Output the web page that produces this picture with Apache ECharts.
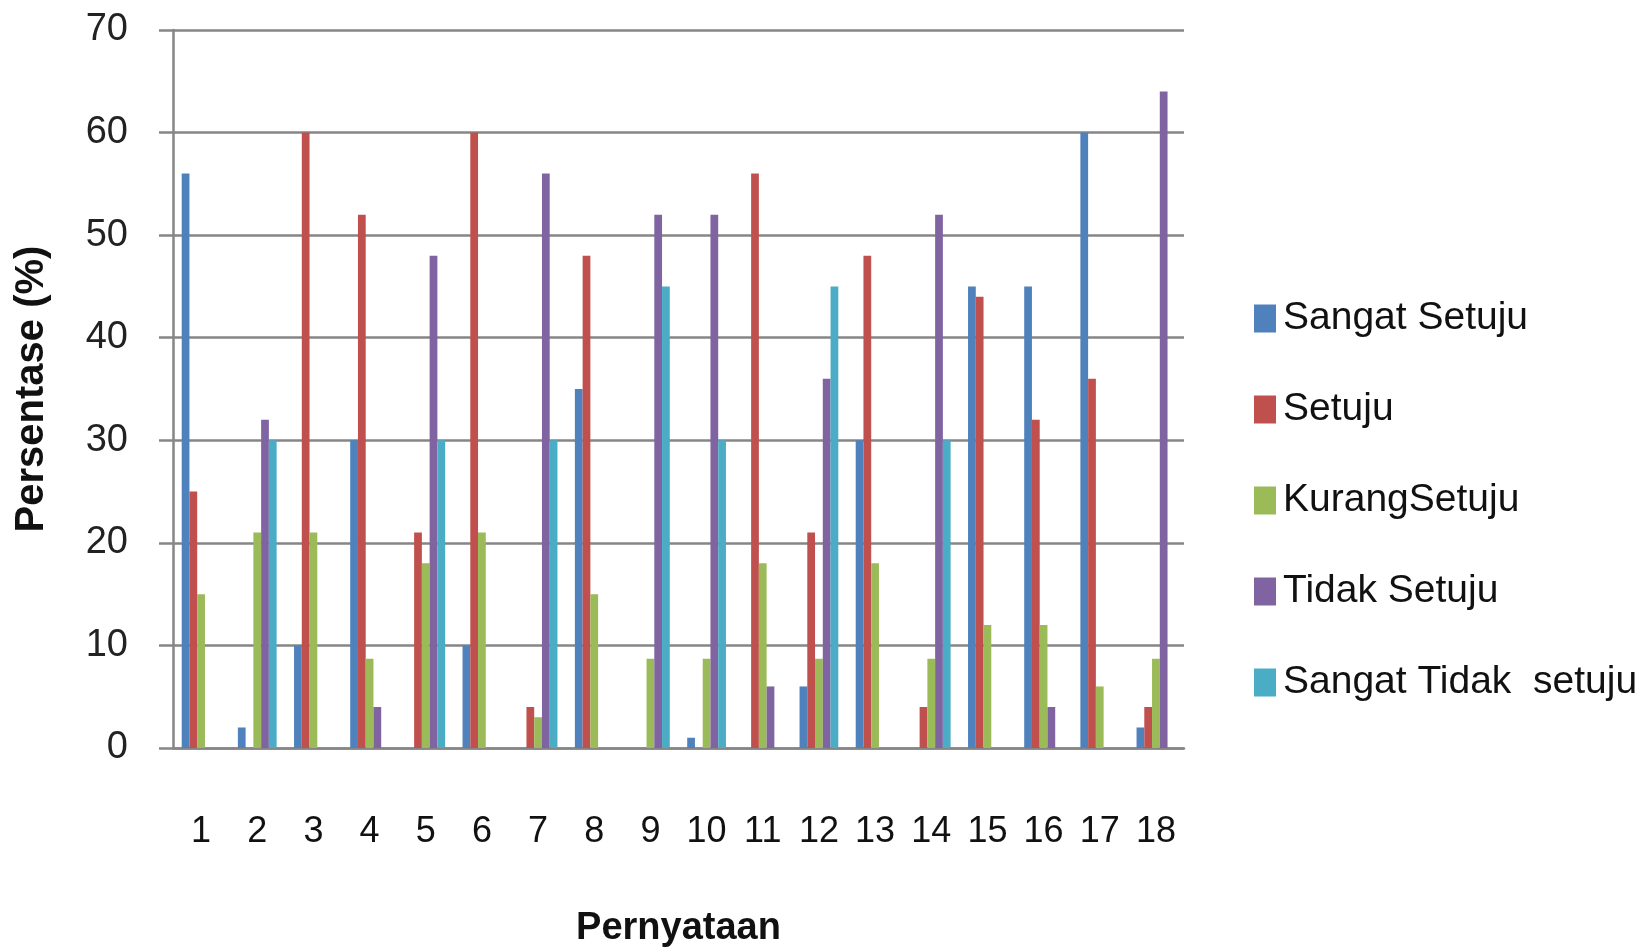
<!DOCTYPE html>
<html>
<head>
<meta charset="utf-8">
<script src="https://cdn.jsdelivr.net/npm/echarts@6/dist/echarts.min.js"></script>
<style>html,body{margin:0;padding:0;background:#fff}#c{width:1650px;height:950px}</style>
</head>
<body>
<div id="c"></div>
<script>
const categories = ['1','2','3','4','5','6','7','8','9','10','11','12','13','14','15','16','17','18'];
const seriesNames = ['Sangat Setuju','Setuju','Kurang Setuju','Tidak Setuju','Sangat Tidak setuju'];
const legendLabels = ['Sangat Setuju','Setuju','KurangSetuju','Tidak Setuju','Sangat Tidak  setuju'];
const sangatSetuju = [56,2,10,30,0,10,0,35,0,1,0,6,30,0,45,45,60,2];
const setuju = [25,0,60,52,21,60,4,48,0,0,56,21,48,4,44,32,36,4];
const kurangSetuju = [15,21,21,8.7,18,21,3,15,8.7,8.7,18,8.7,18,8.7,12,12,6,8.7];
const tidakSetuju = [0,32,0,4,48,0,56,0,52,52,6,36,0,52,0,4,0,64];
const sangatTidakSetuju = [0,30,0,0,30,0,30,0,45,30,0,45,0,30,0,0,0,0];
const yTicks = [0,10,20,30,40,50,60,70];
const colors = ['#4F81BD','#C0504D','#9BBB59','#8064A2','#4BACC6'];

const allData = [sangatSetuju, setuju, kurangSetuju, tidakSetuju, sangatTidakSetuju];
const labelMap = {};
seriesNames.forEach((n,i)=>labelMap[n]=legendLabels[i]);

const chart = echarts.init(document.getElementById('c'), null, {renderer:'canvas'});
const font = "'Liberation Sans', sans-serif";
chart.setOption({
  animation: false,
  backgroundColor: '#fff',
  color: colors,
  grid: {left: 173, right: 466, top: 30, bottom: 202, containLabel: false, outerBoundsMode: 'none'},
  legend: {
    orient: 'vertical', left: 1249, top: 294,
    itemWidth: 22, itemHeight: 28, itemGap: 52,
    icon: 'rect',
    data: seriesNames,
    formatter: n => labelMap[n],
    textStyle: {fontFamily: font, fontSize: 39, lineHeight: 38, color: '#111', padding: [0,0,0,2]}
  },
  xAxis: {
    type: 'category', data: categories,
    name: 'Pernyataan', nameLocation: 'middle', nameGap: 162,
    nameTextStyle: {fontFamily: font, fontSize: 38, fontWeight: 'bold', color: '#111'},
    axisLine: {show: true, lineStyle: {color: '#868686', width: 2.5}},
    axisTick: {show: false},
    axisLabel: {interval: 0, margin: 66, fontFamily: font, fontSize: 36, color: '#111'}
  },
  yAxis: {
    type: 'value', min: 0, max: 70, interval: 10,
    name: 'Persentase (%)', nameLocation: 'middle', nameGap: 121,
    nameTextStyle: {fontFamily: font, fontSize: 40, fontWeight: 'bold', color: '#111'},
    axisLine: {show: true, lineStyle: {color: '#868686', width: 2.5}},
    axisTick: {show: true, inside: false, length: 14, lineStyle: {color: '#868686', width: 2.5}},
    splitLine: {show: true, lineStyle: {color: '#868686', width: 2.5}},
    axisLabel: {margin: 45, fontFamily: font, fontSize: 38, color: '#222',
      formatter: v => yTicks.includes(v) ? String(v) : ''}
  },
  series: seriesNames.map((n,i)=>({
    name: n, type: 'bar', data: allData[i],
    barGap: '0%', barCategoryGap: '31%',
    itemStyle: {color: colors[i]}
  }))
});
</script>
</body>
</html>
